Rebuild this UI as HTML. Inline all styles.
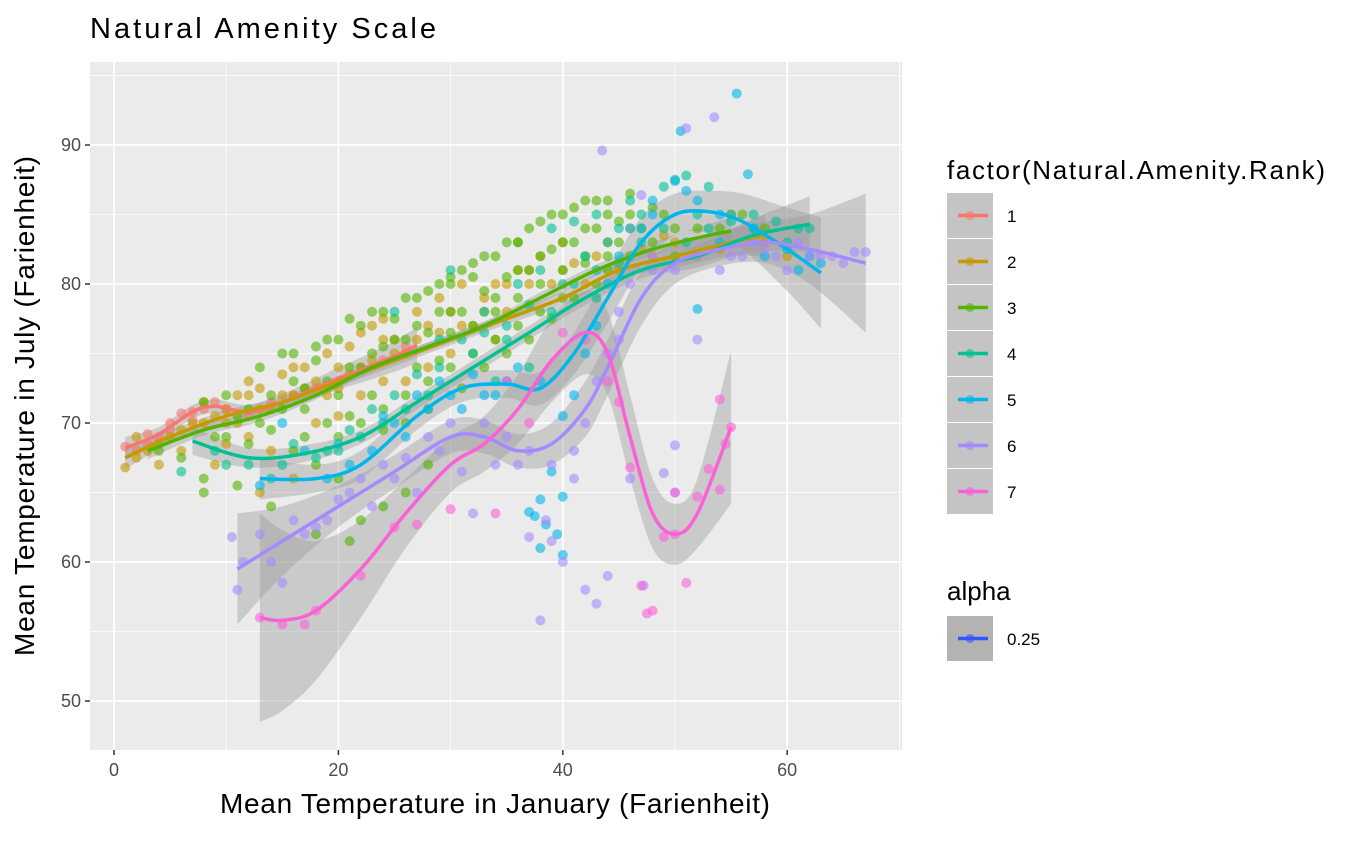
<!DOCTYPE html>
<html><head><meta charset="utf-8">
<style>
body{margin:0;background:#fff;font-family:"Liberation Sans",Arial,sans-serif;}
svg text{font-family:"Liberation Sans",Arial,sans-serif;}
</style></head>
<body>
<svg id="chart" width="1354" height="836" viewBox="0 0 1354 836">
<text x="90" y="38" font-size="29" textLength="346" lengthAdjust="spacing" fill="#000">Natural Amenity Scale</text>
<rect x="90" y="62" width="812" height="688" fill="#ebebeb"/>
<g id="grid"></g>
<g id="ribbons"></g>
<g id="points"></g>
<g id="lines"></g>
<g id="axes"></g>
<text x="495" y="813" font-size="28" text-anchor="middle" textLength="550" lengthAdjust="spacing">Mean Temperature in January (Farienheit)</text>
<text transform="translate(34,406) rotate(-90)" font-size="28" text-anchor="middle" textLength="500" lengthAdjust="spacing">Mean Temperature in July (Farienheit)</text>
<g id="legend">
<text x="947" y="179" font-size="26" textLength="378" lengthAdjust="spacing">factor(Natural.Amenity.Rank)</text>
<text x="947" y="600" font-size="26">alpha</text>
</g>
</svg>
<script>
const NS="http://www.w3.org/2000/svg";
const colors=["#F8766D","#C49A00","#53B400","#00C094","#00B6EB","#A58AFF","#FB61D7"];
const groups=["1","2","3","4","5","6","7"];
const xTicks=[0,20,40,60];
const yTicks=[50,60,70,80,90];
const sx1=[1,4,7,9,12,15,18,20,22,25,27];
const sy1=[68.2,69.2,70.8,71.2,70.8,71.5,72.5,73.2,73.8,74.8,75.6];
const se1=[0.8,0.5,0.5,0.5,0.5,0.6,0.7,0.8,0.9,1.1,1.3];
const sx2=[1,5,10,15,20,25,30,35,40,45,50,55,58];
const sy2=[67.5,69,70.5,71.5,73,74.5,76,77.5,79,81,82,83,83.5];
const se2=[0.8,0.5,0.4,0.4,0.4,0.4,0.4,0.4,0.5,0.6,0.8,1,1.5];
const sx3=[3,8,13,18,23,28,33,38,43,48,53,55];
const sy3=[68,69.5,70.5,72,74,75.5,77,79,81,82.5,83.5,83.8];
const se3=[0.6,0.4,0.4,0.3,0.3,0.3,0.3,0.4,0.4,0.5,0.8,1];
const sx4=[7,12,17,22,27,32,37,42,47,52,57,62];
const sy4=[68.7,67.5,67.8,69,71.5,74,76.5,79,81,82,83.5,84.3];
const se4=[1,0.7,0.6,0.5,0.5,0.5,0.5,0.5,0.6,0.8,1.2,2];
const sx5=[13,18,22,27,31,35,38,41,44,47,50,53,56,60,63];
const sy5=[66,66,67,70.5,72.5,72.8,72.5,75,79,83,85,85.2,84.5,82.5,80.8];
const se5=[1.5,1,1,1,1,1,1.2,1.5,1.8,1.8,1.5,1.5,2,3,4];
const sx6=[11,15,20,25,30,33,36,39,42,44,47,50,54,58,62,67];
const sy6=[59.5,61.5,64,66.5,69,69,68,68.5,71,74,79,81.5,82.5,83,82.5,81.5];
const se6=[4,2.5,1.5,1.2,1.2,1.2,1.2,1.5,2,2,2,1.5,1.2,1.5,2.5,5];
const sx7=[13,15,18,22,26,30,33,36,39,42,44,46,48,50,52,55];
const sy7=[56,55.8,56.5,59.5,63.5,67,68.5,71,74.5,76.5,75,69,63.5,62,63.5,69.7];
const se7=[7.5,6.5,5,3.5,2.5,2,2,2.5,3,3,3,3,2.5,2.2,2.5,5.5];
const p1=[1,68.3,2,68,3,69.2,4,69,5,70,6,70.7,7,70.2,8,71,9,71.5,10,71,12,70.5,14,71.5,16,72,18,72.5,3,68.5,5,69.5,7,70.8,20,73,22,74,24,74.5,26,75.5];
const p2=[1,66.8,2,67.5,3,68,4,67,5,69,6,69.5,7,70,8,71.5,9,70.5,10,71,11,72,12,73,13,72.5,14,71,15,73.5,16,72,17,74,18,73,19,75,20,74,21,75.5,22,76.5,23,77,24,77.5,25,76,26,75,27,78,28,77,29,79,30,78,31,80,32,77,33,79,34,80,35,78,36,81,37,80,38,82,40,81,42,80,44,83,46,84,48,82,50,83,55,85,12,69,18,70,22,72,26,73,30,75,34,76,14,68,20,70.5,28,74,9,67,13,65,16,66,10,70,16,74,24,76,40,83,
2,69,4,68.5,6,68,8,70,10,68.5,11,70,12,72,13,71,15,72,17,72.5,19,72,20,72.5,21,73.5,23,74.5,24,73,25,75,27,76,29,76.5,31,77,33,78,35,80,37,81,39,80,41,81.5,43,82,45,81,47,82.5,49,83.5,52,82,54,82.5,58,83,60,82];
const p3=[4,68,6,67.5,8,66,8,65,10,69,11,65.5,12,71,13,70,14,72,15,75,16,73,17,71,18,75.5,19,73,20,76,21,74,22,77,23,75,24,78,25,76,26,79,27,77,28,79.5,29,80,30,78,31,81,32,80.5,33,82,34,79,35,83,36,81,37,84,38,82,39,85,40,83,41,85.5,42,84,43,86,44,85,45,84.5,46,85,48,85.5,50,84,16,68,18,67,20,69,22,70,24,71,26,72,28,73,30,74,32,75,34,76,36,77,38,78,40,79,20,66,22,63,24,64,26,65,28,67,14,64,18,62,21,61.5,30,80,36,83,42,82,44,81,
8,71.5,9,69,10,72,11,70.5,12,68.5,13,74,14,69.5,15,71,16,75,17,72.5,17,69,18,74.5,19,70,19,76,20,72,21,77.5,21,70.5,22,74,23,78,23,72,24,75.5,24,69.5,25,77.5,26,76,26,70,27,79,27,74,28,76.5,28,71,29,78,29,74.5,30,80.5,30,76.5,31,78,31,72.5,32,81.5,32,77,33,79.5,33,74,34,82,34,78,35,80.5,35,75,36,83,36,79,37,81,37,76,38,84.5,38,80,39,82.5,39,77.5,40,85,40,81,41,83,41,79,42,86,42,81.5,43,84,43,80,44,86,44,82,45,83,46,86.5,46,82,47,84,48,83,49,85,50,82,52,84,54,84,56,85,58,84];
const p4=[6,66.5,9,68,12,67,15,67,18,67.5,20,68,22,69,24,70,25,78,26,71,28,72,29,76,30,81,32,75,33,78,35,77,36,80,38,81,39,84,40,80,41,84.5,42,82,43,85,44,83,45,84,46,86,47,85,49,87,50,87.5,52,85,53,87,55,85,57,84,60,83,62,84,51,87.8,37,74,34,73,43,79,
10,67,14,66,16,68.5,19,68,21,69.5,23,71,25,72,27,73.5,29,74,31,76,33,76.5,35,76,37,78.5,39,78,41,80,43,81,45,81.5,47,83,49,84,51,83,53,84,55,84.5,57,85,59,84.5,61,84];
const p5=[13,65.5,15,70,17,68,19,66,21,67,23,68,25,70,27,72,29,73,31,71,33,72,35,73,37,63.6,37.5,63.3,38,64.5,38,61,38.5,62.7,39,66.5,39.5,62,40,60.5,40,64.7,41,72,43,77,45,82,47,84,48,86,50,87.4,50.5,91,51,86.7,52,78.2,55.5,93.7,56.5,87.9,54,83,58,82,61,81,63,81.5,
20,68.5,24,70.5,26,69,28,71,30,72,32,73.5,34,72,36,74,38,73,40,70.5,42,75,44,80,46,84,48,85,52,86,54,85,57,84,60,82.5,62,82];
const p6=[10.5,61.8,11,58,11.5,60,14,60,15,58.5,17,62,19,63,21,65,23,64,25,66,27,65,29,68,31,66.5,32,63.5,34,67,36,67,37,61.8,38,55.8,38.5,63,39,61.5,40,60,41,68,42,58,43,57,44,59,43.5,89.6,45,76,46,66,47,86.4,48,81,49,66.4,50,68.4,50,65,51,91.2,52,76,53.5,92,54,81,56,82,58,82.5,60,81,62,82,64,82,66,82.3,67,82.3,47.2,58.3,
13,62,16,63,18,62.5,20,64.5,22,66,24,67,26,67.5,28,69,30,70,33,70,35,69,37,68,39,67,41,66,42,70,43,73,44,75,45,78,46,80,48,82,50,81,52,82,55,82,57,83,59,82,61,83,63,82,65,81.5];
const p7=[13,56,15,55.5,17,55.5,18,56.5,22,59,25,62.5,27,62.7,30,63.8,34,63.5,35,73,37,70,40,76.5,42,76,44,73,45,71.5,46,66.8,47,58.3,47.5,56.3,48,56.5,49,61.8,50,65,50,62,51,58.5,52,64.7,53,66.7,54,71.7,54,65.2,55,69.7,54.5,68.5];

const SX=[sx1,sx2,sx3,sx4,sx5,sx6,sx7],SY=[sy1,sy2,sy3,sy4,sy5,sy6,sy7],SE=[se1,se2,se3,se4,se5,se6,se7];
const P=[p1,p2,p3,p4,p5,p6,p7];
const X=v=>114+v*11.22, Y=v=>145-(v-90)*13.9;
const L=90,R=902,T=62,B=750;
function mk(tag,attrs,parent){const e=document.createElementNS(NS,tag);for(const k in attrs)e.setAttribute(k,attrs[k]);parent.appendChild(e);return e;}
const grid=document.getElementById('grid');
[10,30,50,70].forEach(v=>{const l=mk('line',{x1:X(v),x2:X(v),y1:T,y2:B,stroke:'#fff','stroke-width':0.8},grid);});
[55,65,75,85,95].forEach(v=>{const l=mk('line',{x1:L,x2:R,y1:Y(v),y2:Y(v),stroke:'#fff','stroke-width':0.8},grid);});
xTicks.forEach(v=>{const l=mk('line',{x1:X(v),x2:X(v),y1:T,y2:B,stroke:'#fff','stroke-width':1.8},grid);});
yTicks.forEach(v=>{const l=mk('line',{x1:L,x2:R,y1:Y(v),y2:Y(v),stroke:'#fff','stroke-width':1.8},grid);});
const axes=document.getElementById('axes');
xTicks.forEach(v=>{mk('line',{x1:X(v),x2:X(v),y1:B,y2:B+5,stroke:'#333','stroke-width':1.5},axes);
 const t=mk('text',{x:X(v),y:B+26,'font-size':18,fill:'#4d4d4d','text-anchor':'middle'},axes);t.textContent=v;
 });
yTicks.forEach(v=>{mk('line',{x1:L-5,x2:L,y1:Y(v),y2:Y(v),stroke:'#333','stroke-width':1.5},axes);
 const t=mk('text',{x:L-9,y:Y(v)+6,'font-size':18,fill:'#4d4d4d','text-anchor':'end'},axes);t.textContent=v;
 });
function smooth(pts){let d='M'+pts[0][0]+','+pts[0][1];for(let i=0;i<pts.length-1;i++){const p0=pts[i-1]||pts[i],p1=pts[i],p2=pts[i+1],p3=pts[i+2]||p2;
 d+=' C'+(p1[0]+(p2[0]-p0[0])/6)+','+(p1[1]+(p2[1]-p0[1])/6)+' '+(p2[0]-(p3[0]-p1[0])/6)+','+(p2[1]-(p3[1]-p1[1])/6)+' '+p2[0]+','+p2[1];}return d;}
const rib=document.getElementById('ribbons'),pg=document.getElementById('points'),lg=document.getElementById('lines');
for(let g=0;g<7;g++){
 const up=SX[g].map((x,i)=>[X(x),Y(SY[g][i]+SE[g][i])]);
 const lo=SX[g].map((x,i)=>[X(x),Y(SY[g][i]-SE[g][i])]).reverse();
 const r=mk('path',{d:smooth(up)+' L'+lo[0][0]+','+lo[0][1]+smooth(lo).replace(/^M[^C]*/,'')+' Z',fill:'#999','fill-opacity':0.4},rib);
 
}
for(let g=0;g<7;g++){
 const p=P[g];for(let i=0;i<p.length;i+=2){const c=mk('circle',{cx:X(p[i]),cy:Y(p[i+1]),r:5,fill:colors[g],'fill-opacity':0.6},pg);
 }
}
for(let g=0;g<7;g++){
 const pts=SX[g].map((x,i)=>[X(x),Y(SY[g][i])]);
 const l=mk('path',{d:smooth(pts),fill:'none',stroke:colors[g],'stroke-width':3.5},lg);
 
}
const leg=document.getElementById('legend');
function key(y,col,label,bg){const g=mk('g',{},leg);
 
 mk('rect',{x:947,y:y,width:46,height:45,fill:bg},g);
 mk('line',{x1:958,x2:988,y1:y+22.5,y2:y+22.5,stroke:col,'stroke-width':3.5},g);
 mk('circle',{cx:970,cy:y+22.5,r:4.5,fill:col,'fill-opacity':0.6},g);
 const t=mk('text',{x:1007,y:y+29,'font-size':17},g);t.textContent=label;}
for(let g=0;g<7;g++)key(193+46*g,colors[g],groups[g],'#c4c4c4');
key(616,'#3355FF','0.25','#b3b3b3');
</script>
</body></html>
